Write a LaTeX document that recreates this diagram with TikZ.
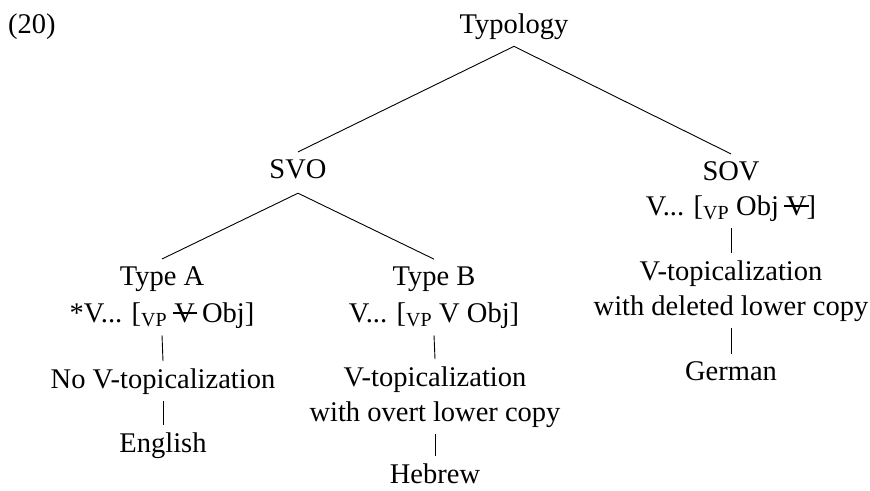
\documentclass[tikz,border=0pt]{standalone}
\usepackage{fontspec}
\setmainfont{Liberation Serif}
\newcommand{\delV}{\ooalign{V\cr\hidewidth\rule[0.285em]{0.85em}{0.07em}\hidewidth\cr}}

\begin{document}
\begin{tikzpicture}[x=1pt, y=-1pt,
  treenode/.style={font=\fontsize{28.5}{35}\selectfont, align=center, anchor=base, inner sep=7pt},
  branch/.style={line width=0.9pt}
]
\useasboundingbox (0,0) rectangle (870,490);
\node[treenode, anchor=base west] (exnum) at (1,33) {(20)};
\node[treenode] (typology) at (514,33) {Typology};
\node[treenode, text depth=8pt] (svo) at (298,178) {SVO};
\node[treenode] (sov) at (731,215) {SOV\\V... [\textsubscript{VP} Obj \delV]};
\node[treenode] (typea) at (162,322) {Type A\\[2pt]*V... [\textsubscript{VP} \delV{} Obj]};
\node[treenode] (typeb) at (434,322) {Type B\\[2pt]V... [\textsubscript{VP} V Obj]};
\node[treenode] (notop) at (163,388) {No V-topicalization};
\node[treenode] (overt) at (435,421) {V-topicalization\\with overt lower copy};
\node[treenode] (deleted) at (731,315) {V-topicalization\\with deleted lower copy};
\node[treenode] (english) at (163,452) {English};
\node[treenode] (hebrew) at (435,483) {Hebrew};
\node[treenode] (german) at (731,380) {German};
\draw[branch] (typology.south) -- (svo.north);
\draw[branch] (typology.south) -- (sov.north);
\draw[branch] (svo.south) -- (typea.north);
\draw[branch] (svo.south) -- (typeb.north);
\draw[branch] (typea.south) -- (notop.north);
\draw[branch] (typeb.south) -- (overt.north);
\draw[branch] (sov.south) -- (deleted.north);
\draw[branch] (notop.south) -- (english.north);
\draw[branch] (overt.south) -- (hebrew.north);
\draw[branch] (deleted.south) -- (german.north);
\end{tikzpicture}
\end{document}
